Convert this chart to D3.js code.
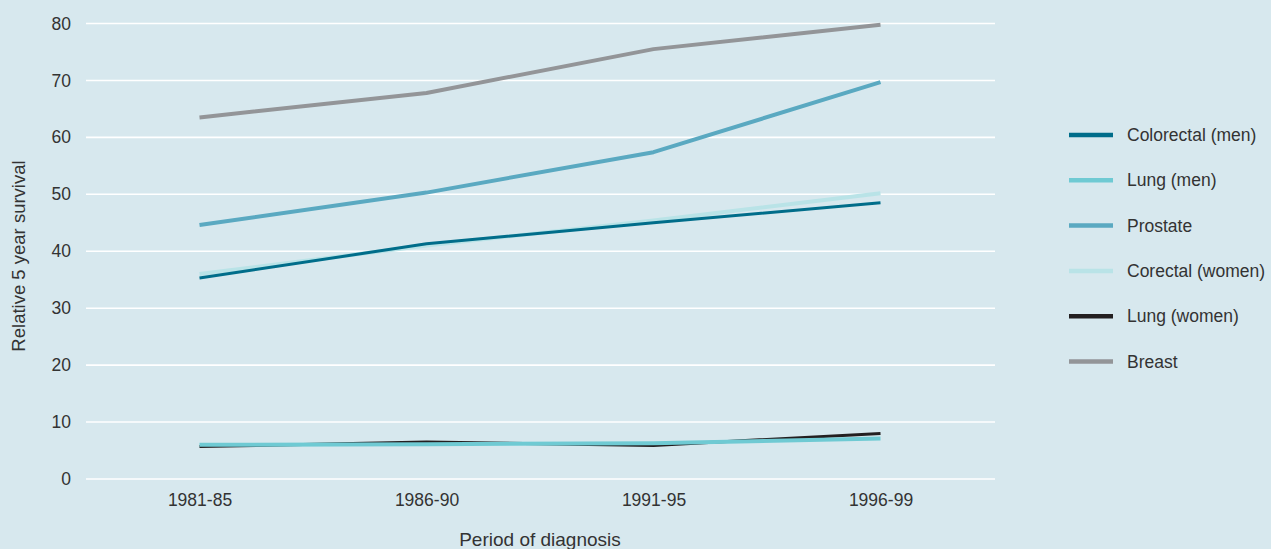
<!DOCTYPE html>
<html>
<head>
<meta charset="utf-8">
<script src="https://cdn.jsdelivr.net/npm/d3@7"></script>
<style>
  html, body { margin: 0; padding: 0; background: #d7e8ee; }
  svg { display: block; font-family: "Liberation Sans", Arial, sans-serif; }
</style>
</head>
<body>
<svg id="chart" width="1271" height="549"></svg>
<script>
// Periods of diagnosis
const periods = ["1981-85", "1986-90", "1991-95", "1996-99"];

// Relative 5 year survival (%) per cancer site
const colorectalMen   = [35.3, 41.3, 45.0, 48.5];
const lungMen         = [6.0, 6.1, 6.3, 7.1];
const prostate        = [44.6, 50.3, 57.4, 69.7];
const colorectalWomen = [36.0, 41.0, 45.4, 50.2];
const lungWomen       = [5.7, 6.5, 5.9, 8.0];
const breast          = [63.5, 67.8, 75.5, 79.8];

const seriesNames  = ["Colorectal (men)", "Lung (men)", "Prostate", "Corectal (women)", "Lung (women)", "Breast"];
const seriesValues = [colorectalMen, lungMen, prostate, colorectalWomen, lungWomen, breast];
const seriesColors = ["#006d8a", "#6fcad3", "#5aa9c1", "#b9e3e7", "#231f20", "#939598"];

const yTicks = [0, 10, 20, 30, 40, 50, 60, 70, 80];

const svg = d3.select("#chart");
const textColor = "#333333";

const x = d3.scalePoint().domain(periods).range([86, 994]).padding(0.5);
const y = d3.scaleLinear().domain([0, 80]).range([479, 23.5]);

// Horizontal grid
svg.append("g")
  .selectAll("line")
  .data(yTicks)
  .join("line")
  .attr("x1", 86).attr("x2", 995)
  .attr("y1", d => y(d)).attr("y2", d => y(d))
  .attr("stroke", "#ffffff")
  .attr("stroke-width", 1.6);

// Y axis labels
const yAxis = svg.append("g")
  .attr("transform", "translate(76,0)")
  .call(d3.axisLeft(y).tickValues(yTicks).tickSize(0).tickPadding(5));
yAxis.select(".domain").remove();
yAxis.selectAll("text")
  .attr("fill", textColor)
  .style("font-size", "17.5px")
  .style("font-family", "Liberation Sans, Arial, sans-serif");

// X axis labels
const xAxis = svg.append("g")
  .attr("transform", "translate(0,490)")
  .call(d3.axisBottom(x).tickSize(0).tickPadding(4));
xAxis.select(".domain").remove();
xAxis.selectAll("text")
  .attr("fill", textColor)
  .style("font-size", "17.5px")
  .style("font-family", "Liberation Sans, Arial, sans-serif");

// Axis titles
svg.append("text")
  .attr("transform", "translate(25,256) rotate(-90)")
  .attr("text-anchor", "middle")
  .attr("fill", textColor)
  .style("font-size", "18.5px")
  .text("Relative 5 year survival");

svg.append("text")
  .attr("x", 540).attr("y", 546)
  .attr("text-anchor", "middle")
  .attr("fill", textColor)
  .style("font-size", "19px")
  .text("Period of diagnosis");

// Series lines
const line = d3.line()
  .x((d, i) => x(periods[i]))
  .y(d => y(d))
  .curve(d3.curveLinear);

const drawOrder = [5, 2, 3, 0, 4, 1];
svg.append("g")
  .selectAll("path")
  .data(drawOrder)
  .join("path")
  .attr("d", k => line(seriesValues[k]))
  .attr("fill", "none")
  .attr("stroke", k => seriesColors[k])
  .attr("stroke-linejoin", "round")
  .attr("stroke-width", k => (k === 4 || k === 0) ? 3 : 4);

// Legend
const legend = svg.append("g")
  .selectAll("g")
  .data(seriesNames)
  .join("g")
  .attr("transform", (d, i) => `translate(1069,${135 + i * 45.3})`);

legend.append("line")
  .attr("x1", 0).attr("x2", 44)
  .attr("y1", 0).attr("y2", 0)
  .attr("stroke", (d, i) => seriesColors[i])
  .attr("stroke-width", 4.5);

legend.append("text")
  .attr("x", 58).attr("y", 0)
  .attr("dy", "0.35em")
  .attr("fill", textColor)
  .style("font-size", "17.5px")
  .text(d => d);
</script>
</body>
</html>
